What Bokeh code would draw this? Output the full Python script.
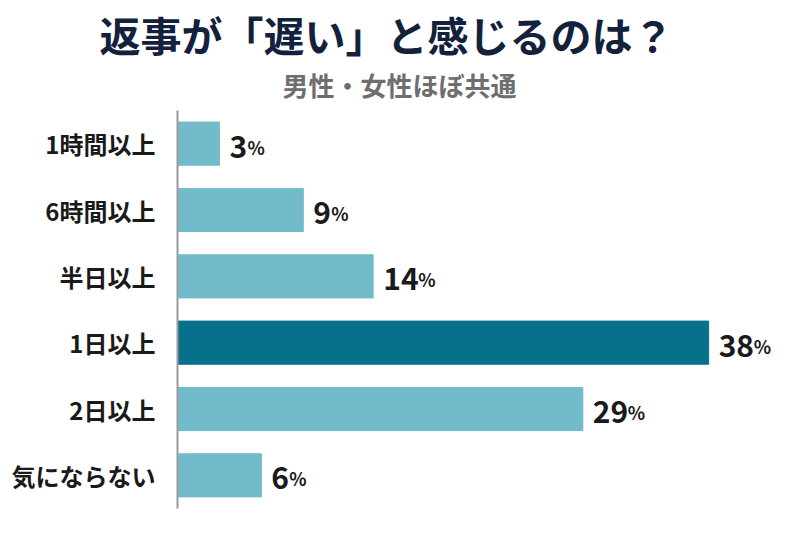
from bokeh.plotting import figure
from bokeh.models import ColumnDataSource, Range1d, Title
from bokeh.core.properties import value
from bokeh.embed import file_html
from bokeh.resources import INLINE

# data
categories = ["1時間以上", "6時間以上", "半日以上", "1日以上", "2日以上", "気にならない"]
percents = [3, 9, 14, 38, 29, 6]
highlight = "1日以上"

title_text = "返事が「遅い」と感じるのは？"
subtitle_text = "男性・女性ほぼ共通"

FONT = "Noto Sans CJK JP"
light = "#72bbcb"
dark = "#07708a"

colors = [dark if c == highlight else light for c in categories]
nums = [str(v) for v in percents]
pct_off = [10 + 17 * len(s) + 1 for s in nums]

src = ColumnDataSource(dict(cat=categories, val=percents, color=colors,
                            num=nums, pct=["%"] * len(nums), pct_off=pct_off))

p = figure(width=792, height=525, y_range=list(reversed(categories)),
           x_range=Range1d(0, 44), x_axis_location=None,
           output_backend="svg", toolbar_location=None,
           min_border_left=177, min_border_right=0,
           min_border_top=110, min_border_bottom=17)
p.outline_line_color = None
p.grid.grid_line_color = None
p.background_fill_color = "white"

p.hbar(y="cat", right="val", left=0, height=0.65, color="color", source=src)

p.text(x="val", y="cat", text="num", x_offset=10, y_offset=3,
       text_baseline="alphabetic", text_align="left",
       text_font=value(FONT), text_font_style="bold", text_font_size="30px",
       text_color="#1a1a1a", source=src)
p.text(x="val", y="cat", text="pct", x_offset="pct_off", y_offset=3,
       text_baseline="alphabetic", text_align="left",
       text_font=value(FONT), text_font_style="bold", text_font_size="18px",
       text_color="#1a1a1a", source=src)

ax = p.yaxis[0]
ax.axis_line_color = "#9a9a9a"
ax.axis_line_width = 2
ax.major_tick_line_color = None
ax.minor_tick_line_color = None
ax.major_label_standoff = 16
ax.major_label_text_font = FONT
ax.major_label_text_font_style = "bold"
ax.major_label_text_font_size = "24px"
ax.major_label_text_color = "#1a1a1a"

p.add_layout(Title(text=subtitle_text, align="left", offset=105, standoff=15,
                   text_font=FONT, text_font_style="bold", text_font_size="26px",
                   text_color="#6e6e6e"), "above")
p.add_layout(Title(text=title_text, align="left", offset=-78, standoff=-14,
                   text_font=FONT, text_font_style="bold", text_font_size="41px",
                   text_color="#13213d"), "above")

open("out.html", "w").write(file_html(p, INLINE))
